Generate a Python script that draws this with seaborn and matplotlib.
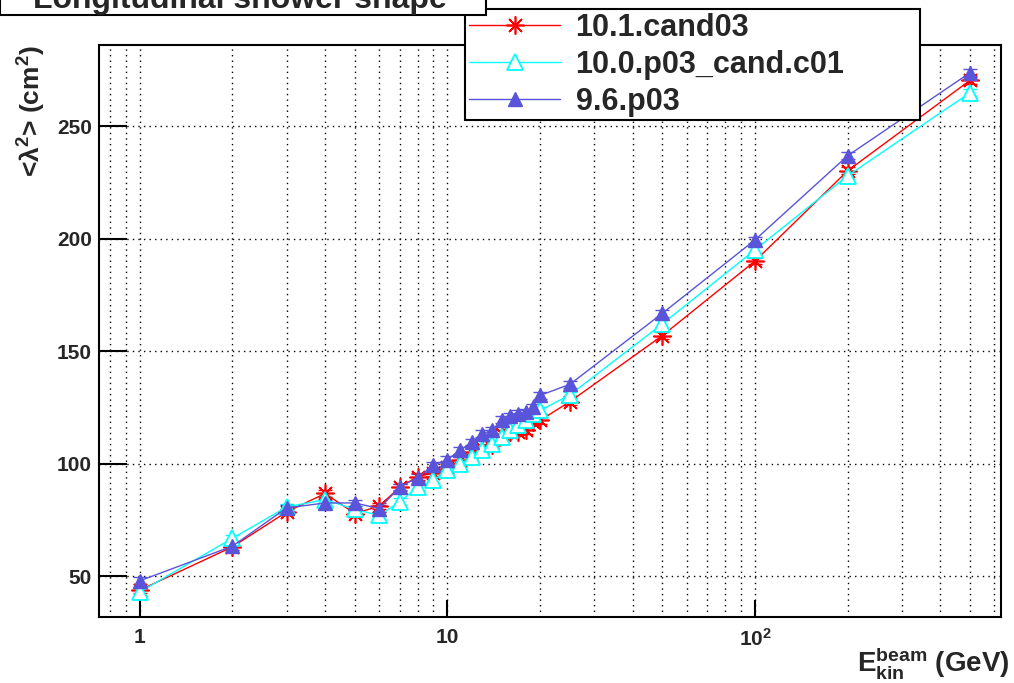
import numpy as np
import pandas as pd
import seaborn as sns
import matplotlib.pyplot as plt
from matplotlib.patches import Rectangle
from matplotlib.ticker import FixedLocator, FixedFormatter, MultipleLocator

# beam energies (GeV)
energy = [1, 2, 3, 4, 5, 6, 7, 8, 9, 10, 11, 12, 13, 14, 15, 16, 17, 18, 19, 20,
          25, 50, 100, 200, 500]

# <lambda^2> (cm^2) per release
v_10_1_cand03 = [43.8, 63.0, 78.5, 86.7, 77.8, 81.1, 89.5, 94.2, 95.8, 98.3,
                 101.5, 105.2, 106.7, 108.2, 113.3, 114.0, 114.2, 114.8, 118.5, 119.2,
                 127.5, 156.9, 190.0, 230.1, 270.3]
v_10_0_p03_cand_c01 = [43.0, 66.8, 80.7, 84.0, 79.6, 77.0, 83.0, 89.6, 92.6, 97.0,
                       100.0, 102.7, 106.0, 108.9, 111.8, 114.8, 117.0, 119.5, 122.2, 123.6,
                       130.5, 162.1, 195.0, 227.9, 264.8]
v_9_6_p03 = [47.9, 63.3, 80.3, 82.5, 82.5, 80.0, 89.6, 93.8, 99.2, 101.8,
             105.9, 109.6, 113.3, 114.8, 119.5, 121.0, 122.2, 122.9, 125.1, 130.3,
             135.2, 166.8, 199.4, 236.8, 273.7]
stat_err = [1.5, 1.5, 1.5]

labels = ['10.1.cand03', '10.0.p03_cand.c01', '9.6.p03']
series = [v_10_1_cand03, v_10_0_p03_cand_c01, v_9_6_p03]

df = pd.concat([pd.DataFrame({'E': energy, 'val': s, 'rel': l})
                for s, l in zip(series, labels)], ignore_index=True)

sns.set_style('white')
plt.rcParams['font.family'] = ['Liberation Sans', 'DejaVu Sans']
plt.rcParams['font.weight'] = 'bold'
plt.rcParams['mathtext.fontset'] = 'custom'
plt.rcParams['mathtext.rm'] = 'Liberation Sans:bold'
plt.rcParams['mathtext.bf'] = 'Liberation Sans:bold'
plt.rcParams['mathtext.it'] = 'Liberation Sans:bold'
plt.rcParams['mathtext.default'] = 'bf'

fig = plt.figure(figsize=(10.14, 6.83), dpi=100)
ax = fig.add_axes([0.0976, 0.0966, 0.8894, 0.8374])

colors = ['#ff0000', '#00ffff', '#5954d9']
styles = [dict(marker=(8, 2, 0), ms=13, mfc='#ff0000', mec='#ff0000', mew=1.2),
          dict(marker='^', ms=11, mfc='white', mec='#00ffff', mew=1.3),
          dict(marker='^', ms=10, mfc='#5954d9', mec='#5954d9', mew=1.0)]

handles = []
for lab, s, c, st, err in zip(labels, series, colors, styles, stat_err):
    sub = df[df.rel == lab]
    ax.errorbar(sub.E, sub.val, yerr=err, fmt='none', ecolor=c, elinewidth=1,
                capsize=5, capthick=1, zorder=3)
    sns.lineplot(data=sub, x='E', y='val', ax=ax, color=c, lw=1, zorder=4,
                 markeredgecolor=st['mec'], **{k: v for k, v in st.items() if k != 'mec'})
    handles.append(plt.Line2D([], [], color=c, lw=1, **st))

ax.set_xscale('log')
ax.set_xlim(0.736, 630)
ax.set_ylim(31.8, 286)

ax.xaxis.set_major_locator(FixedLocator([1, 10, 100]))
ax.xaxis.set_major_formatter(FixedFormatter(['1', '10', '10$^{2}$']))
minor_x = [0.8, 0.9] + list(range(2, 10)) + list(range(20, 100, 10)) + list(range(200, 700, 100))
ax.xaxis.set_minor_locator(FixedLocator(minor_x))
ax.xaxis.set_minor_formatter(FixedFormatter([''] * len(minor_x)))
ax.yaxis.set_major_locator(MultipleLocator(50))
ax.yaxis.set_minor_locator(MultipleLocator(10))

ax.tick_params(axis='both', which='both', direction='in', width=1.5, color='black')
ax.tick_params(axis='y', which='major', length=20, labelsize=15, pad=5)
ax.tick_params(axis='y', which='minor', length=10)
ax.tick_params(axis='x', which='major', length=12, labelsize=15, pad=8)
ax.tick_params(axis='x', which='minor', length=6)
ax.tick_params(left=True, bottom=True)
for t in ax.get_xticklabels() + ax.get_yticklabels():
    t.set_fontweight('bold')

ax.grid(True, which='major', axis='both', color='black', ls=(0, (1, 3)), lw=1)
ax.grid(True, which='minor', axis='x', color='black', ls=(0, (1, 3)), lw=1)
for sp in ax.spines.values():
    sp.set_color('black')
    sp.set_linewidth(1.5)

ax.set_xlabel('')
ax.set_ylabel('<$\\lambda^{2}$> (cm$^{2}$)', fontsize=19, fontweight='bold', loc='top')
ax.yaxis.set_label_coords(-0.057, 1.0)
fig.text(0.996, 1 - 663 / 683, '$E^{beam}_{kin}$ (GeV)', ha='right', va='center',
         fontsize=20, fontweight='bold')

leg = ax.legend(handles, labels, loc='upper left',
                bbox_to_anchor=(465 / 1014, 1 - 117 / 683, 455 / 1014, 108 / 683),
                bbox_transform=fig.transFigure, mode='expand', borderaxespad=0,
                frameon=True, fancybox=False, framealpha=1, edgecolor='black',
                prop={'size': 22, 'weight': 'bold'}, handlelength=3.0,
                handletextpad=0.5, labelspacing=0.23, borderpad=0.12)
leg.get_frame().set_linewidth(1.5)

# title box, cut off at the top like the original
fig.add_artist(Rectangle((0, 1 - 15 / 683), 486 / 1014, 0.2, transform=fig.transFigure,
                         facecolor='white', edgecolor='black', lw=1.5, zorder=5))
fig.text(0.237, 1 - 8 / 683, 'Longitudinal shower shape', ha='center', va='baseline',
         fontsize=23, fontweight='bold', zorder=6)

fig.savefig('out.png', dpi=100)
